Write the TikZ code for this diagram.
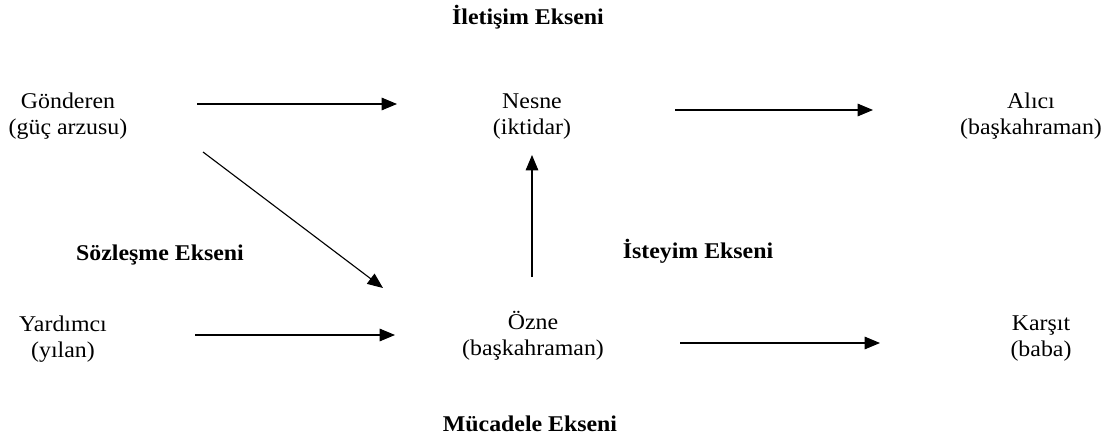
\documentclass[tikz,border=0pt]{standalone}
\usepackage{fontspec}
\setmainfont{Liberation Serif}[FakeStretch=1.06]
\usetikzlibrary{arrows.meta,positioning}

\begin{document}
\begin{tikzpicture}[
  x=0.025cm, y=-0.025cm,
  actant/.style={align=center, inner sep=0pt, font=\fontsize{16}{18.5}\selectfont},
  axis/.style={inner sep=0pt, font=\fontsize{16}{18.5}\selectfont\bfseries},
  arr/.style={-{Triangle[length=11pt, width=9pt]}, line width=0.8pt, black}
]
\useasboundingbox (0,0) rectangle (1112,439);

\node[axis] (ileti) at (528,17) {İletişim Ekseni};
\node[axis] (sozles) at (160,255) {Sözleşme Ekseni};
\node[axis] (isteyim) at (698,251) {İsteyim Ekseni};
\node[axis] (mucadele) at (530,424) {Mücadele Ekseni};

\node[actant] (gon) at (68,116) {Gönderen\\(güç arzusu)};
\node[actant] (nes) at (532,117) {Nesne\\(iktidar)};
\node[actant] (alici) at (1031,116) {Alıcı\\(başkahraman)};
\node[actant] (yard) at (63,339) {Yardımcı\\(yılan)};
\node[actant] (ozne) at (533,336) {Özne\\(başkahraman)};
\node[actant] (karsit) at (1041,339) {Karşıt\\(baba)};

\draw[arr] ([shift={(129,-12)}]gon.center) -- ([shift={(-135,-13)}]nes.center);
\draw[arr] ([shift={(143,-7)}]nes.center) -- ([shift={(-158,-6)}]alici.center);
\draw[arr] ([shift={(135,36)}]gon.center) -- ([shift={(-150,-48)}]ozne.center);
\draw[arr] ([shift={(-1,-59)}]ozne.center) -- ([shift={(0,38)}]nes.center);
\draw[arr] ([shift={(132,-4)}]yard.center) -- ([shift={(-138,-1)}]ozne.center);
\draw[arr] ([shift={(147,7)}]ozne.center) -- ([shift={(-161,4)}]karsit.center);
\end{tikzpicture}
\end{document}
